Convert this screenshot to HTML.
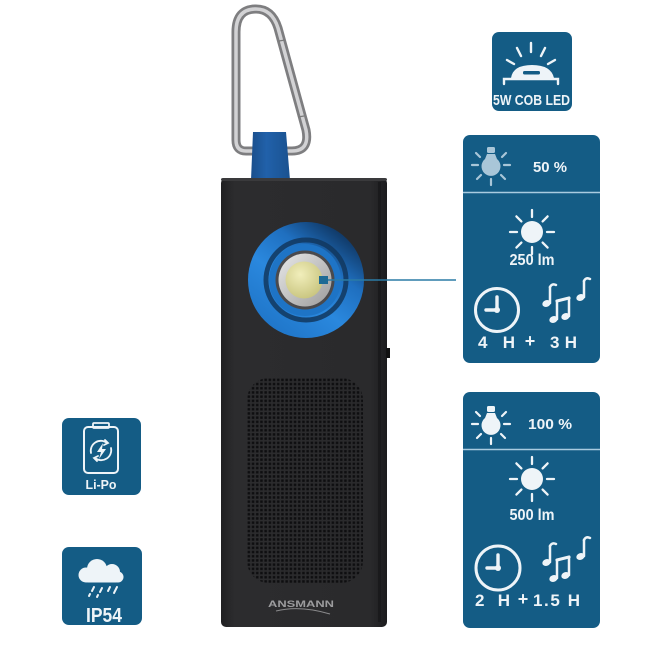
<!DOCTYPE html>
<html><head><meta charset="utf-8"><style>
html,body{margin:0;padding:0;background:#fff;}
svg{display:block;}
text{font-family:"Liberation Sans",sans-serif;font-weight:bold;fill:#eef4f8;}
</style></head><body>
<svg width="650" height="650" viewBox="0 0 650 650" xmlns="http://www.w3.org/2000/svg">
<defs>
  <linearGradient id="body" x1="0" x2="1" y1="0" y2="0">
    <stop offset="0" stop-color="#202022"/>
    <stop offset="0.08" stop-color="#2c2c2e"/>
    <stop offset="0.9" stop-color="#2a2a2c"/>
    <stop offset="1" stop-color="#1c1c1e"/>
  </linearGradient>
  <linearGradient id="tab" x1="0" x2="1">
    <stop offset="0" stop-color="#1a4f8c"/>
    <stop offset="0.4" stop-color="#2161aa"/>
    <stop offset="1" stop-color="#1a5290"/>
  </linearGradient>
  <linearGradient id="ring" x1="0.85" y1="0.1" x2="0.2" y2="0.95">
    <stop offset="0" stop-color="#0f3560"/>
    <stop offset="0.3" stop-color="#1f6fbf"/>
    <stop offset="0.6" stop-color="#2a88de"/>
    <stop offset="1" stop-color="#1f75c8"/>
  </linearGradient>
  <radialGradient id="led" cx="0.4" cy="0.35" r="0.7">
    <stop offset="0" stop-color="#f1eebb"/>
    <stop offset="1" stop-color="#c8c47e"/>
  </radialGradient>
  <linearGradient id="silver" x1="0" y1="0" x2="1" y2="1">
    <stop offset="0" stop-color="#e8e8e8"/>
    <stop offset="1" stop-color="#9c9c9c"/>
  </linearGradient>
  <pattern id="dots" x="247" y="378" width="4.2" height="4.2" patternUnits="userSpaceOnUse">
    <rect x="0.6" y="0.6" width="2.5" height="2.5" fill="#0e0e10"/>
  </pattern>
</defs>

<!-- Carabiner -->
<path d="M236 140 L236 32 Q236 9 256 9 Q272 9 278 28 L306 130 Q310 151 292 151 L246 151 Q236 151 236 140 Z" fill="none" stroke="#7e7e80" stroke-width="9" stroke-linejoin="round"/>
<path d="M236 140 L236 32 Q236 9 256 9 Q272 9 278 28 L306 130 Q310 151 292 151 L246 151 Q236 151 236 140 Z" fill="none" stroke="#d2d2d4" stroke-width="3.5" stroke-linejoin="round"/>
<line x1="279" y1="41" x2="285" y2="40" stroke="#7a7a7a" stroke-width="1.2"/>
<line x1="298" y1="117" x2="304" y2="116" stroke="#7a7a7a" stroke-width="1.2"/>

<!-- Strap tab -->
<polygon points="253,132 286,132 290,180 251,180" fill="url(#tab)"/>

<!-- Body -->
<rect x="221" y="178" width="166" height="449" rx="5" fill="url(#body)"/>
<rect x="221" y="178" width="166" height="3" rx="2" fill="#3a3a3c"/>
<rect x="378" y="182" width="3" height="440" fill="#1a1a1c"/>
<rect x="386" y="348" width="4" height="10" fill="#111"/>

<!-- Grille -->
<rect x="247" y="378" width="116" height="205" rx="22" fill="url(#dots)"/>

<!-- Logo -->
<text x="301" y="607" text-anchor="middle" font-size="9" textLength="66" lengthAdjust="spacingAndGlyphs" style="fill:#9c9c9e">ANSMANN</text>
<path d="M276 611 Q300 605 330 614" fill="none" stroke="#8a8a8c" stroke-width="1"/>

<!-- Lens ring -->
<circle cx="306" cy="280" r="58" fill="url(#ring)"/>
<circle cx="306" cy="280" r="40" fill="none" stroke="#12375e" stroke-width="5" opacity="0.85"/>
<circle cx="305" cy="280" r="36" fill="#1e74c6"/>
<circle cx="305" cy="280" r="29.5" fill="#4a4a4d"/>
<circle cx="305" cy="280" r="26.5" fill="url(#silver)"/>
<circle cx="304" cy="280" r="18.5" fill="url(#led)"/>

<!-- Connector -->
<rect x="319" y="276" width="9" height="8" fill="#1e6a95"/>
<line x1="328" y1="280" x2="456" y2="280" stroke="#2b7ba5" stroke-width="1.6"/>

<!-- 5W COB LED box -->
<rect x="492" y="32" width="80" height="79" rx="7" fill="#145c85"/>
<g stroke="#eef4f8" stroke-width="2.4" stroke-linecap="round" fill="none">
  <line x1="531" y1="43" x2="531" y2="52"/>
  <line x1="517" y1="48" x2="521" y2="56"/>
  <line x1="545" y1="48" x2="541" y2="56"/>
  <line x1="507" y1="60" x2="514" y2="64"/>
  <line x1="555" y1="60" x2="548" y2="64"/>
  <path d="M504 84 L504 79 L558 79 L558 84"/>
</g>
<path d="M511 78 Q513 65 532 65 Q551 65 554 78 Z" fill="#eef4f8"/>
<rect x="523" y="71" width="17" height="3.5" rx="1.5" fill="#145c85"/>
<text x="493" y="105" font-size="15" textLength="77" lengthAdjust="spacingAndGlyphs">5W COB LED</text>

<!-- Panel 1 -->
<rect x="463" y="135" width="137" height="228" rx="7" fill="#145c85"/>
<line x1="463" y1="192.5" x2="600" y2="192.5" stroke="#a9cbe0" stroke-width="1.6"/>
<g transform="translate(491,165)">
  <g stroke="#a9c6d8" stroke-width="2.2" stroke-linecap="round">
    <line x1="-13" y1="0" x2="-19" y2="0"/>
    <line x1="13" y1="0" x2="19" y2="0"/>
    <line x1="0" y1="14" x2="0" y2="20"/>
    <line x1="-10" y1="10" x2="-14" y2="14"/>
    <line x1="10" y1="10" x2="14" y2="14"/>
    <line x1="-11" y1="-8" x2="-15" y2="-12"/>
    <line x1="11" y1="-8" x2="15" y2="-12"/>
  </g>
  <path d="M-4 -11 L4 -11 L6 -6 A9.5 9.5 0 1 1 -6 -6 Z" fill="#a9c6d8"/>
  <rect x="-4" y="-18" width="8" height="6" rx="1.5" fill="#a9c6d8"/>
</g>
<text x="550" y="172" font-size="15" text-anchor="middle" textLength="34" lengthAdjust="spacingAndGlyphs">50 %</text>
<g transform="translate(532,232)" stroke="#eef4f8" stroke-width="2.3" stroke-linecap="round">
  <circle r="11" fill="#eef4f8" stroke="none"/>
  <line x1="0" y1="-15" x2="0" y2="-22"/><line x1="0" y1="15" x2="0" y2="22"/>
  <line x1="-15" y1="0" x2="-22" y2="0"/><line x1="15" y1="0" x2="22" y2="0"/>
  <line x1="-10.6" y1="-10.6" x2="-15.6" y2="-15.6"/><line x1="10.6" y1="-10.6" x2="15.6" y2="-15.6"/>
  <line x1="-10.6" y1="10.6" x2="-15.6" y2="15.6"/><line x1="10.6" y1="10.6" x2="15.6" y2="15.6"/>
</g>
<text x="532" y="265" font-size="16" text-anchor="middle" textLength="45" lengthAdjust="spacingAndGlyphs">250 lm</text>
<g transform="translate(497,310)" stroke="#eef4f8" fill="none" stroke-linecap="round">
  <circle r="21.5" stroke-width="3"/>
  <line x1="0" y1="0" x2="0" y2="-13" stroke-width="3.4"/>
  <line x1="0" y1="0" x2="-11" y2="0" stroke-width="3.4"/>
  <circle r="3" fill="#eef4f8" stroke="none"/>
</g>
<g transform="translate(543,278)" stroke="#eef4f8" stroke-width="2.5" fill="#eef4f8" stroke-linecap="round">
  <line x1="7" y1="25" x2="7" y2="9"/><path d="M7 9 Q9 5 13 7" fill="none"/>
  <ellipse cx="3.5" cy="25.5" rx="4.3" ry="3.3" stroke="none" transform="rotate(-20 3.5 25.5)"/>
  <line x1="14" y1="41" x2="14" y2="23"/><line x1="26" y1="38" x2="26" y2="20"/>
  <line x1="14" y1="23" x2="26" y2="20" stroke-width="3.2"/>
  <ellipse cx="10.5" cy="41.5" rx="4.3" ry="3.3" stroke="none" transform="rotate(-20 10.5 41.5)"/>
  <ellipse cx="22.5" cy="38.5" rx="4.3" ry="3.3" stroke="none" transform="rotate(-20 22.5 38.5)"/>
  <line x1="41" y1="19" x2="41" y2="3"/><path d="M41 3 Q43 -1 47 1" fill="none"/>
  <ellipse cx="37.5" cy="19.5" rx="4.3" ry="3.3" stroke="none" transform="rotate(-20 37.5 19.5)"/>
</g>
<text x="478" y="348" font-size="17" textLength="37" lengthAdjust="spacing">4 H</text>
<text x="530" y="347" font-size="18" text-anchor="middle">+</text>
<text x="550" y="348" font-size="17" textLength="27" lengthAdjust="spacing">3 H</text>

<!-- Panel 2 -->
<rect x="463" y="392" width="137" height="236" rx="7" fill="#145c85"/>
<line x1="463" y1="449.5" x2="600" y2="449.5" stroke="#a9cbe0" stroke-width="1.6"/>
<g transform="translate(491,424)">
  <g stroke="#eef4f8" stroke-width="2.2" stroke-linecap="round">
    <line x1="-13" y1="0" x2="-19" y2="0"/>
    <line x1="13" y1="0" x2="19" y2="0"/>
    <line x1="0" y1="14" x2="0" y2="20"/>
    <line x1="-10" y1="10" x2="-14" y2="14"/>
    <line x1="10" y1="10" x2="14" y2="14"/>
    <line x1="-11" y1="-8" x2="-15" y2="-12"/>
    <line x1="11" y1="-8" x2="15" y2="-12"/>
  </g>
  <path d="M-4 -11 L4 -11 L6 -6 A9.5 9.5 0 1 1 -6 -6 Z" fill="#eef4f8"/>
  <rect x="-4" y="-18" width="8" height="6" rx="1.5" fill="#eef4f8"/>
</g>
<text x="550" y="429" font-size="15" text-anchor="middle" textLength="44" lengthAdjust="spacingAndGlyphs">100 %</text>
<g transform="translate(532,479)" stroke="#eef4f8" stroke-width="2.3" stroke-linecap="round">
  <circle r="11" fill="#eef4f8" stroke="none"/>
  <line x1="0" y1="-15" x2="0" y2="-22"/><line x1="0" y1="15" x2="0" y2="22"/>
  <line x1="-15" y1="0" x2="-22" y2="0"/><line x1="15" y1="0" x2="22" y2="0"/>
  <line x1="-10.6" y1="-10.6" x2="-15.6" y2="-15.6"/><line x1="10.6" y1="-10.6" x2="15.6" y2="-15.6"/>
  <line x1="-10.6" y1="10.6" x2="-15.6" y2="15.6"/><line x1="10.6" y1="10.6" x2="15.6" y2="15.6"/>
</g>
<text x="532" y="520" font-size="16" text-anchor="middle" textLength="45" lengthAdjust="spacingAndGlyphs">500 lm</text>
<g transform="translate(498,568)" stroke="#eef4f8" fill="none" stroke-linecap="round">
  <circle r="22" stroke-width="3"/>
  <line x1="0" y1="0" x2="0" y2="-13" stroke-width="3.4"/>
  <line x1="0" y1="0" x2="-11" y2="0" stroke-width="3.4"/>
  <circle r="3" fill="#eef4f8" stroke="none"/>
</g>
<g transform="translate(543,537)" stroke="#eef4f8" stroke-width="2.5" fill="#eef4f8" stroke-linecap="round">
  <line x1="7" y1="25" x2="7" y2="9"/><path d="M7 9 Q9 5 13 7" fill="none"/>
  <ellipse cx="3.5" cy="25.5" rx="4.3" ry="3.3" stroke="none" transform="rotate(-20 3.5 25.5)"/>
  <line x1="14" y1="41" x2="14" y2="23"/><line x1="26" y1="38" x2="26" y2="20"/>
  <line x1="14" y1="23" x2="26" y2="20" stroke-width="3.2"/>
  <ellipse cx="10.5" cy="41.5" rx="4.3" ry="3.3" stroke="none" transform="rotate(-20 10.5 41.5)"/>
  <ellipse cx="22.5" cy="38.5" rx="4.3" ry="3.3" stroke="none" transform="rotate(-20 22.5 38.5)"/>
  <line x1="41" y1="19" x2="41" y2="3"/><path d="M41 3 Q43 -1 47 1" fill="none"/>
  <ellipse cx="37.5" cy="19.5" rx="4.3" ry="3.3" stroke="none" transform="rotate(-20 37.5 19.5)"/>
</g>
<text x="475" y="606" font-size="17" textLength="35" lengthAdjust="spacing">2 H</text>
<text x="523" y="605" font-size="18" text-anchor="middle">+</text>
<text x="533" y="606" font-size="17" textLength="47" lengthAdjust="spacing">1.5 H</text>

<!-- Li-Po box -->
<rect x="62" y="418" width="79" height="77" rx="7" fill="#145c85"/>
<rect x="84" y="427" width="34" height="46" rx="4" fill="none" stroke="#eef4f8" stroke-width="2"/>
<rect x="93" y="423" width="16" height="5" rx="1" fill="none" stroke="#eef4f8" stroke-width="1.8"/>
<g fill="none" stroke="#eef4f8" stroke-width="1.8" stroke-linecap="round">
  <path d="M91 453 A10 10 0 0 1 107 443"/>
  <path d="M111 448 A10 10 0 0 1 95 458"/>
  <path d="M105 440 L108 443 L104 445"/>
  <path d="M97 461 L94 458 L98 456"/>
</g>
<path d="M103 443 L97 452 L101 452 L99 459 L106 449 L102 449 Z" fill="#eef4f8"/>
<text x="101" y="489" font-size="12.5" text-anchor="middle" textLength="31" lengthAdjust="spacingAndGlyphs">Li-Po</text>

<!-- IP54 box -->
<rect x="62" y="547" width="80" height="78" rx="7" fill="#145c85"/>
<g fill="#eef4f8">
  <circle cx="97" cy="569" r="10"/>
  <circle cx="86" cy="575" r="7.5"/>
  <circle cx="112" cy="572" r="8"/>
  <circle cx="118" cy="577" r="5.5"/>
  <rect x="84" y="572" width="36" height="10.5" rx="4"/>
</g>
<g stroke="#eef4f8" stroke-width="2" stroke-linecap="round">
  <line x1="94" y1="587" x2="92" y2="591"/>
  <line x1="90" y1="594" x2="89" y2="596"/>
  <line x1="102" y1="588" x2="100" y2="592"/>
  <line x1="98" y1="595" x2="97" y2="597"/>
  <line x1="110" y1="587" x2="108" y2="591"/>
  <line x1="117" y1="587" x2="114" y2="593"/>
</g>
<text x="104" y="622" font-size="20" text-anchor="middle" textLength="36" lengthAdjust="spacingAndGlyphs">IP54</text>
</svg>
</body></html>
